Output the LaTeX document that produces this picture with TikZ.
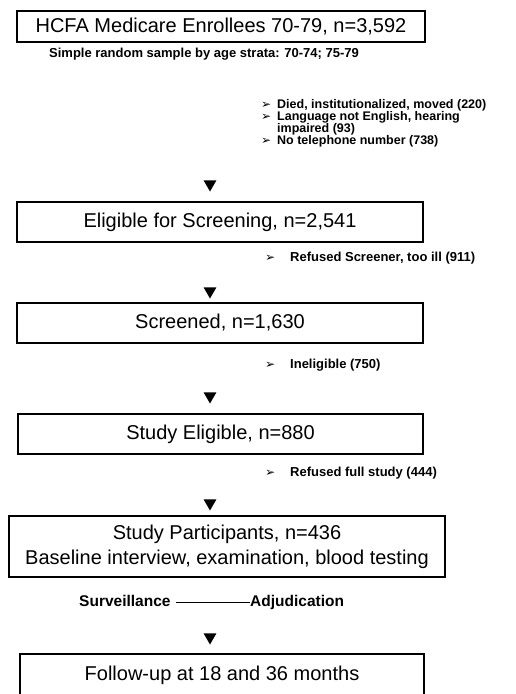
\documentclass[tikz,border=0pt]{standalone}
\usepackage{fontspec}
\setmainfont{Liberation Sans}
\newfontfamily\dingfont{DejaVu Sans}
\usetikzlibrary{shapes.geometric,calc}
\begin{document}
\begin{tikzpicture}[x=1pt,y=-1pt,
  box/.style={draw, line width=1.2pt, inner sep=0pt, align=center,
    font=\fontsize{20}{25}\selectfont},
  tri/.style={regular polygon, regular polygon sides=3, shape border rotate=180,
    fill=black, draw=none, inner sep=0pt, minimum size=15pt},
  note/.style={anchor=base west, inner sep=0pt, font=\bfseries\fontsize{13}{12}\selectfont},
  smallnote/.style={anchor=base west, inner sep=0pt, font=\bfseries\fontsize{12.5}{12}\selectfont},
  bulletmark/.style={anchor=base west, inner sep=0pt, font=\dingfont\fontsize{12}{12}\selectfont},
  flow/.style={anchor=base west, inner sep=0pt, font=\bfseries\fontsize{15.5}{18}\selectfont},
]
\fill[white] (0,0) rectangle (515,694);
\clip (0,0) rectangle (515,694);

% boxes
\node[box, minimum width=408pt, minimum height=31pt] (b1) at (221,26.5) {HCFA Medicare Enrollees 70-79, n=3,592};
\node[box, minimum width=406pt, minimum height=40pt] (b2) at (220,222) {Eligible for Screening, n=2,541};
\node[box, minimum width=406pt, minimum height=40pt] (b3) at (220,323) {Screened, n=1,630};
\node[box, minimum width=405pt, minimum height=40pt] (b4) at (220.5,434) {Study Eligible, n=880};
\node[box, minimum width=436pt, minimum height=61pt] (b5) at (227,546.5) {Study Participants, n=436\\Baseline interview, examination, blood testing};
\node[box, minimum width=404pt, minimum height=42pt] (b6) at (222,675) {Follow-up at 18 and 36 months};

% triangles
\node[tri] (t1) at (210,184) {};
\node[tri] (t2) at (210,291) {};
\node[tri] (t3) at (210,396) {};
\node[tri] (t4) at (210,503) {};
\node[tri] (t5) at (210,637) {};

% notes
\node[note] (s1) at (49,57.7) {Simple random sample by age strata: 70-74; 75-79};

\node[bulletmark] (m1) at (261,108.5) {➢};
\node[smallnote] (d1) at (277,108.5) {Died, institutionalized, moved (220)};
\node[bulletmark] (m2) at (261,120.5) {➢};
\node[smallnote] (d2) at (277,120.5) {Language not English, hearing};
\node[smallnote] (d3) at (277,132.5) {impaired (93)};
\node[bulletmark] (m3) at (261,144.5) {➢};
\node[smallnote] (d4) at (277,144.5) {No telephone number (738)};

\node[bulletmark] (m4) at (265,261.7) {➢};
\node[note] (r1) at (290,261.7) {Refused Screener, too ill (911)};
\node[bulletmark] (m5) at (265,368.7) {➢};
\node[note] (r2) at (290,368.7) {Ineligible (750)};
\node[bulletmark] (m6) at (265,476.7) {➢};
\node[note] (r3) at (290,476.7) {Refused full study (444)};

% surveillance line
\node[flow] (sv) at (79,606.6) {Surveillance};
\node[flow] (ad) at (250,606.6) {Adjudication};
\draw[line width=0.8pt] ($(sv.base east)+(5,-4.5)$) -- ($(ad.base west)+(0,-4.5)$);
\end{tikzpicture}
\end{document}
